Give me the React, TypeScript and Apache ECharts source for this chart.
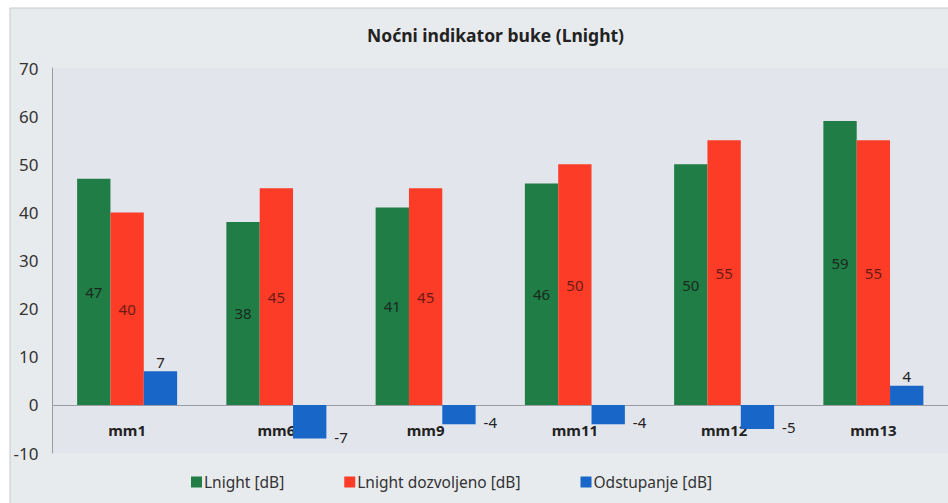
import React, { useEffect, useRef } from "react";
import * as echarts from "echarts";

const categories = ["mm1", "mm6", "mm9", "mm11", "mm12", "mm13"];
const lnight = [47, 38, 41, 46, 50, 59];
const lnightAllowed = [40, 45, 45, 50, 55, 55];
const deviation = [7, -7, -4, -4, -5, 4];
const seriesNames = ["Lnight [dB]", "Lnight dozvoljeno [dB]", "Odstupanje [dB]"];
const yTicks = { min: -10, max: 70, interval: 10 };

const FONT = "'Noto Sans', 'Open Sans', sans-serif";

export default function App() {
  const ref = useRef<HTMLDivElement>(null);
  useEffect(() => {
    if (!ref.current) return;
    const chart = echarts.init(ref.current, undefined, { renderer: "svg" });
    chart.setOption({
      animation: false,
      backgroundColor: "#ffffff",
      textStyle: { fontFamily: FONT },
      graphic: [
        {
          type: "rect",
          z: -10,
          silent: true,
          shape: { x: 10, y: 8, width: 945, height: 500 },
          style: { fill: "#e8ebee", stroke: "#c4c8cc", lineWidth: 1 },
        },
      ],
      title: {
        text: "Noćni indikator buke (Lnight)",
        left: 362,
        top: 21,
        textStyle: { fontFamily: FONT, fontSize: 17.5, fontWeight: "bold", color: "#222" },
      },
      legend: {
        left: 186,
        top: 469,
        itemWidth: 11,
        itemHeight: 11,
        itemGap: 60,
        icon: "rect",
        textStyle: { fontFamily: FONT, fontSize: 15.5, color: "#333", padding: [0, 0, 0, -3] },
        data: seriesNames,
      },
      grid: {
        show: true,
        backgroundColor: "#e2e5ec",
        borderWidth: 0,
        left: 52.5,
        right: -5,
        top: 68,
        bottom: 50,
        containLabel: false,
      },
      xAxis: {
        type: "category",
        data: categories,
        axisLine: { onZero: true, lineStyle: { color: "#9a9da3", width: 1 } },
        axisTick: { show: false },
        axisLabel: { margin: -31, fontFamily: FONT, fontSize: 15, fontWeight: "bold", color: "#222" },
      },
      yAxis: {
        type: "value",
        min: yTicks.min,
        max: yTicks.max,
        interval: yTicks.interval,
        axisLine: { show: true, lineStyle: { color: "#9a9da3" } },
        axisTick: { show: false },
        splitLine: { show: false },
        axisLabel: { margin: 14, fontFamily: FONT, fontSize: 17, color: "#333" },
      },
      series: [
        {
          name: seriesNames[0],
          type: "bar",
          data: lnight,
          barGap: "0%",
          barCategoryGap: "33%",
          itemStyle: { color: "#1f7d45" },
          label: { show: true, position: "inside", fontFamily: FONT, fontSize: 15, color: "#1a2a20" },
        },
        {
          name: seriesNames[1],
          type: "bar",
          data: lnightAllowed,
          barGap: "0%",
          barCategoryGap: "33%",
          itemStyle: { color: "#fd3c28" },
          label: { show: true, position: "inside", fontFamily: FONT, fontSize: 15, color: "#6e1a14" },
        },
        {
          name: seriesNames[2],
          type: "bar",
          data: deviation.map((v) => ({
            value: v,
            label:
              v >= 0
                ? { position: "top", distance: 2 }
                : { position: ["100%", "100%"], align: "left", verticalAlign: "middle", offset: [8, -2] },
          })),
          barGap: "0%",
          barCategoryGap: "33%",
          itemStyle: { color: "#1866c8" },
          label: { show: true, fontFamily: FONT, fontSize: 15, color: "#222" },
        },
      ],
    });
    return () => chart.dispose();
  }, []);
  return (
    <div
      ref={ref}
      style={{ position: "fixed", left: 0, top: 0, width: 948, height: 503 }}
    />
  );
}
